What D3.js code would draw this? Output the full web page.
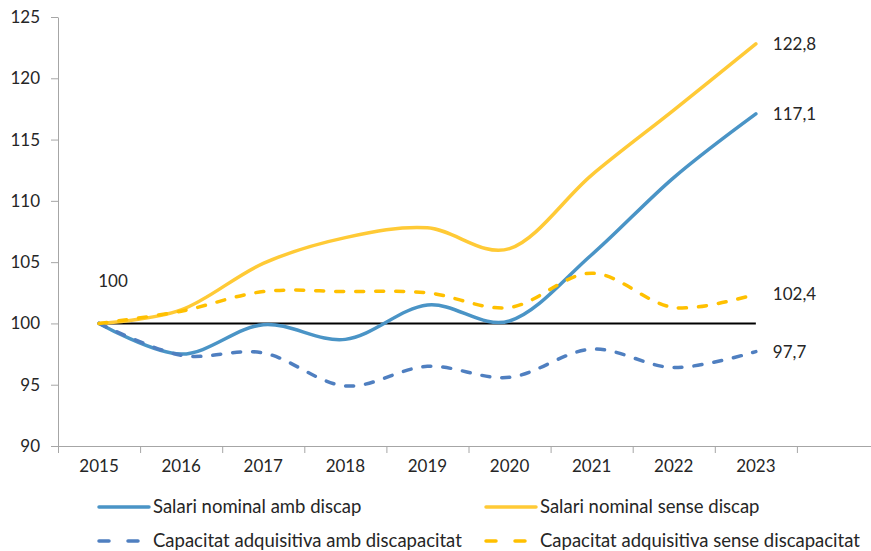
<!DOCTYPE html>
<html>
<head>
<meta charset="utf-8">
<script src="https://cdn.jsdelivr.net/npm/d3@7"></script>
<style>
  body { margin: 0; background: #fff; }
  svg text { font-family: Lato, "Liberation Sans", sans-serif; fill: #262626; }
</style>
</head>
<body>
<svg id="chart" width="871" height="551"></svg>
<script>
// data
var years = ["2015", "2016", "2017", "2018", "2019", "2020", "2021", "2022", "2023"];
var salariAmb = [100, 97.5, 99.9, 98.7, 101.5, 100.2, 105.6, 111.9, 117.1];
var salariSense = [100, 101.1, 104.9, 107.0, 107.8, 106.1, 112.1, 117.4, 122.8];
var capacitatAmb = [100, 97.4, 97.6, 94.9, 96.5, 95.6, 97.9, 96.4, 97.7];
var capacitatSense = [100, 101.0, 102.6, 102.6, 102.5, 101.3, 104.1, 101.3, 102.4];
var baseLine = [100, 100, 100, 100, 100, 100, 100, 100, 100];
var yTicks = [90, 95, 100, 105, 110, 115, 120, 125];

var series = [
  {name: "Salari nominal amb discap", values: salariAmb, color: "#4a94c6", dash: null},
  {name: "Salari nominal sense discap", values: salariSense, color: "#ffca36", dash: null},
  {name: "Capacitat adquisitiva amb discapacitat", values: capacitatAmb, color: "#4f7fc0", dash: "8,12"},
  {name: "Capacitat adquisitiva sense discapacitat", values: capacitatSense, color: "#ffc000", dash: "8,12"}
];

var svg = d3.select("#chart"),
    margin = {top: 17, left: 58},
    plotH = 429,
    plotW = 821;

var x = d3.scaleBand().domain(years.concat([""])).range([margin.left, margin.left + plotW]).padding(0);
var y = d3.scaleLinear().domain([90, 125]).range([margin.top + plotH, margin.top]);
var cx = function(i) { return x(years[i]) + x.bandwidth() / 2; };

// y axis
var yAxis = svg.append("g")
    .attr("transform", "translate(" + margin.left + ",0)")
    .call(d3.axisLeft(y).tickValues(yTicks).tickSize(7).tickSizeOuter(0).tickPadding(11));
yAxis.select(".domain").attr("stroke", "#a6a6a6");
yAxis.selectAll(".tick line").attr("stroke", "#a6a6a6");
yAxis.selectAll("text").style("font-size", "17px").attr("fill", "#262626");

// x axis
var xAxis = svg.append("g")
    .attr("transform", "translate(0," + y(90) + ")")
    .call(d3.axisBottom(x).tickSize(0).tickSizeOuter(0).tickPadding(14));
xAxis.select(".domain").attr("stroke", "#a6a6a6");
xAxis.selectAll("text").style("font-size", "17px").attr("fill", "#262626");
xAxis.selectAll(".bound")
    .data(years)
  .enter().append("line")
    .attr("x1", function(d) { return x(d) + 0.5; })
    .attr("x2", function(d) { return x(d) + 0.5; })
    .attr("y1", 0).attr("y2", 7)
    .attr("stroke", "#a6a6a6");
xAxis.append("line")
    .attr("x1", x("") + 0.5).attr("x2", x("") + 0.5)
    .attr("y1", 0).attr("y2", 7)
    .attr("stroke", "#a6a6a6");

var line = d3.line()
    .x(function(d, i) { return cx(i); })
    .y(function(d) { return y(d); })
    .curve(d3.curveCatmullRom.alpha(0));

// reference line at 100
svg.append("path")
    .attr("d", d3.line().x(function(d, i) { return cx(i); }).y(function(d) { return y(d); })(baseLine))
    .attr("fill", "none")
    .attr("stroke", "#000")
    .attr("stroke-width", 2);

svg.selectAll(".serie")
    .data(series)
  .enter().append("path")
    .attr("class", "serie")
    .attr("d", function(s) { return line(s.values); })
    .attr("fill", "none")
    .attr("stroke", function(s) { return s.color; })
    .attr("stroke-width", 3.5)
    .attr("stroke-linecap", "round")
    .attr("stroke-dasharray", function(s) { return s.dash; });

// end labels
var last = years.length - 1;
svg.selectAll(".endlabel")
    .data(series)
  .enter().append("text")
    .attr("x", cx(last) + 17)
    .attr("y", function(s) { return y(s.values[last]); })
    .attr("dy", "0.35em")
    .style("font-size", "17px")
    .text(function(s) { return d3.format(".1f")(s.values[last]).replace(".", ","); });

svg.append("text")
    .attr("x", cx(0) + 14)
    .attr("y", y(baseLine[0]) - 42)
    .attr("dy", "0.35em")
    .attr("text-anchor", "middle")
    .style("font-size", "17px")
    .text(baseLine[0]);

// legend
var legendPos = [[97, 507], [484, 507], [97, 541], [484, 541]];
var legend = svg.selectAll(".legend")
    .data(series)
  .enter().append("g")
    .attr("transform", function(d, i) { return "translate(" + legendPos[i][0] + "," + legendPos[i][1] + ")"; });

legend.append("line")
    .attr("x1", 2).attr("x2", function(d) { return d.dash ? 50 : 52; })
    .attr("y1", 0).attr("y2", 0)
    .attr("stroke", function(d) { return d.color; })
    .attr("stroke-width", 3.5)
    .attr("stroke-linecap", "round")
    .attr("stroke-dasharray", function(d) { return d.dash ? "10,19" : null; });

legend.append("text")
    .attr("x", function(d) { return d.dash ? 56 : 56; })
    .attr("dy", "0.35em")
    .style("font-size", "18.5px")
    .text(function(d) { return d.name; });
</script>
</body>
</html>
